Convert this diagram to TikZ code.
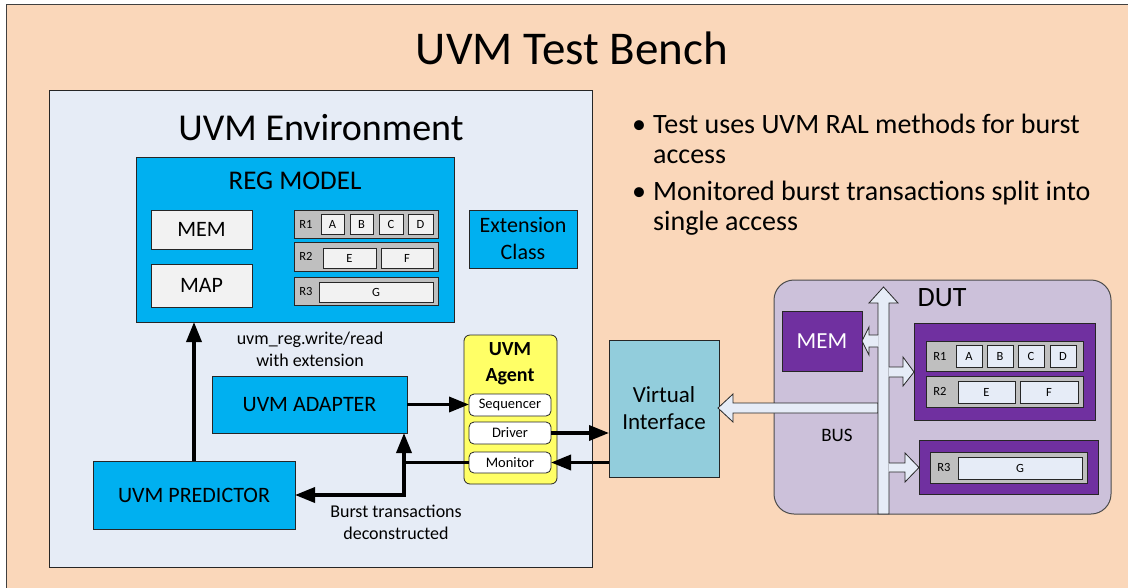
\documentclass[tikz,border=0pt]{standalone}
\usepackage{fontspec}
\setmainfont{Carlito}
\usetikzlibrary{arrows.meta,calc}
\definecolor{peach}{HTML}{FAD7BA}
\definecolor{envc}{HTML}{E6ECF6}
\definecolor{uvmblue}{HTML}{00B0F0}
\definecolor{lightw}{HTML}{F2F2F2}
\definecolor{reggray}{HTML}{BFBFBF}
\definecolor{agenty}{HTML}{FFFF66}
\definecolor{vic}{HTML}{92CDDC}
\definecolor{dutc}{HTML}{CCC1DA}
\definecolor{purp}{HTML}{7030A0}
\definecolor{busc}{HTML}{E6ECF7}
\definecolor{edge}{HTML}{262626}
\newcommand\mybox[7]{\node[#6, minimum width={(#4-#2)*1pt}, minimum height={(#5-#3)*1pt}] (#1) at ({(#2+#4)/2},{(#3+#5)/2}) {#7};}
\begin{document}
\begin{tikzpicture}[x=1pt,y=-1pt,
  box/.style={draw=edge, line width=0.8pt, inner sep=0pt, outer sep=0pt},
  conn/.style={line width=3.5pt, -{Triangle[length=20pt,width=15pt]}, line join=miter},
  plain/.style={line width=3.5pt, line join=miter},
  blk/.style={fill=busc, draw=edge, line width=0.8pt, line join=miter},
  fA/.style={font=\fontsize{22}{27}\selectfont, align=center},
  fR/.style={font=\fontsize{12.5}{15}\selectfont},
  fS/.style={font=\fontsize{14.5}{17}\selectfont},
  fL/.style={font=\fontsize{18}{22}\selectfont, align=center, inner sep=0pt},
  fB/.style={font=\fontsize{28}{34}\selectfont, inner sep=0pt},
  sub/.style={box, fill=white, rounded corners=5pt, fS},
  lett/.style={box, fill=lightw, fR},
  dlett/.style={box, fill=busc, fR}
]
\useasboundingbox (0,0) rectangle (1128,587);
\fill[white] (0,0) rectangle (1128,587);
\draw[fill=peach, draw=black!75, line width=0.8pt] (6,4) rectangle (1150,610);

\node[font=\fontsize{47}{56}\selectfont] (title) at (572,48) {UVM Test Bench};

% bullets
\node[fB, anchor=base] (bu1) at (639,133) {•};
\node[fB, anchor=base west] (l1) at (653,133) {Test uses UVM RAL methods for burst};
\node[fB, anchor=base west] (l2) at (653,163) {access};
\node[fB, anchor=base] (bu2) at (639,200) {•};
\node[fB, anchor=base west] (l3) at (653,200) {Monitored burst transactions split into};
\node[fB, anchor=base west] (l4) at (653,230) {single access};

% environment
\mybox{env}{49}{90}{592}{567}{box, fill=envc}{}
\node[font=\fontsize{38}{46}\selectfont] (envt) at (321,128) {UVM Environment};

% reg model
\mybox{reg}{136}{157}{454}{322}{box, fill=uvmblue}{}
\node[font=\fontsize{27}{32}\selectfont] (regt) at (295,181) {REG MODEL};
\mybox{rmem}{151}{210}{252}{249}{box, fill=lightw, fA}{MEM}
\mybox{rmap}{151}{264}{252}{307}{box, fill=lightw, fA}{MAP}
\mybox{rr1}{294}{210}{438}{238}{box, fill=reggray}{}
\node[fR] (rr1t) at (306,224) {R1};
\mybox{ra}{321}{214}{344}{234}{lett}{A}
\mybox{rb}{350}{214}{373}{234}{lett}{B}
\mybox{rc}{379}{214}{403}{234}{lett}{C}
\mybox{rd}{408}{214}{433}{234}{lett}{D}
\mybox{rr2}{294}{242}{438}{271}{box, fill=reggray}{}
\node[fR] (rr2t) at (306,256.5) {R2};
\mybox{re}{323}{248}{376}{268}{lett}{E}
\mybox{rf}{381}{248}{433}{268}{lett}{F}
\mybox{rr3}{294}{277}{438}{305}{box, fill=reggray}{}
\node[fR] (rr3t) at (306,291) {R3};
\mybox{rg}{319}{282}{433}{302}{lett}{G}

\mybox{ext}{469}{210}{577}{268}{box, fill=uvmblue, fA}{Extension\\Class}

\node[fL] (wlab) at (310,349) {uvm\_reg.write/read\\with extension};

\mybox{adp}{212}{376}{407}{433}{box, fill=uvmblue, fA}{UVM ADAPTER}
\mybox{pred}{93}{461}{295}{529}{box, fill=uvmblue, fA}{UVM PREDICTOR}

\node[fL] (blab) at (396,522) {Burst transactions\\deconstructed};

% agent
\mybox{agent}{464}{335}{557}{484}{box, fill=agenty, rounded corners=6pt}{}
\node[font=\fontsize{20}{26}\selectfont\bfseries, align=center] (agt) at (510,364) {UVM\\Agent};
\mybox{seq}{469}{394}{551}{416}{sub}{Sequencer}
\mybox{drv}{469}{422}{551}{444}{sub}{Driver}
\mybox{mon}{469}{452}{551}{473}{sub}{Monitor}

% virtual interface
\mybox{vi}{609}{340}{719}{477}{box, fill=vic, font=\fontsize{23}{27}\selectfont, align=center}{Virtual\\Interface}

% DUT
\mybox{dut}{774}{280}{1111}{514}{box, fill=dutc, draw=black!70, line width=1pt, rounded corners=20pt}{}
\node[font=\fontsize{28}{34}\selectfont] (dutt) at (942,298) {DUT};
\mybox{dmem}{782}{311}{862}{371}{box, fill=purp, text=white, font=\fontsize{23}{27}\selectfont}{MEM}
\mybox{p1}{914}{323}{1095}{420}{box, fill=purp}{}
\mybox{dr1}{926}{341}{1083}{371}{box, fill=reggray}{}
\node[fR] (dr1t) at (940,356) {R1};
\mybox{da}{956}{345}{982}{367}{dlett}{A}
\mybox{db}{987}{345}{1013}{367}{dlett}{B}
\mybox{dc}{1018}{345}{1044}{367}{dlett}{C}
\mybox{dd}{1050}{345}{1076}{367}{dlett}{D}
\mybox{dr2}{926}{376}{1083}{407}{box, fill=reggray}{}
\node[fR] (dr2t) at (940,391.5) {R2};
\mybox{de}{958}{381}{1015}{403}{dlett}{E}
\mybox{df}{1020}{381}{1078}{403}{dlett}{F}
\mybox{p2}{919}{440}{1098}{494}{box, fill=purp}{}
\mybox{dr3}{930}{452}{1087}{483}{box, fill=reggray}{}
\node[fR] (dr3t) at (944,467.5) {R3};
\mybox{dg}{958}{457}{1082}{479}{dlett}{G}
\node[font=\fontsize{19}{23}\selectfont] (bus) at (837,435) {BUS};

% bus block arrows
\path[blk] (878,403) -- (733,403) -- (733,394) -- (718,408) -- (733,422) -- (733,413) -- (878,413) -- cycle;
\path[blk] (878,514) -- (878,303) -- (869,303) -- (883.5,287) -- (898,303) -- (889,303) -- (889,514) -- cycle;
\fill[busc] (878.5,335) -- (869,335) -- (869,327) -- (862,341) -- (869,355) -- (869,347) -- (878.5,347) -- cycle;
\draw[edge, line width=0.8pt, line join=miter] (878,335) -- (869,335) -- (869,327) -- (862,341) -- (869,355) -- (869,347) -- (878,347);
\fill[busc] (888.5,367) -- (903,367) -- (903,357) -- (914,372) -- (903,386) -- (903,377) -- (888.5,377) -- cycle;
\draw[edge, line width=0.8pt, line join=miter] (889,367) -- (903,367) -- (903,357) -- (914,372) -- (903,386) -- (903,377) -- (889,377);
\fill[busc] (888.5,463) -- (905,463) -- (905,453) -- (919,467.5) -- (905,482) -- (905,472) -- (888.5,472) -- cycle;
\draw[edge, line width=0.8pt, line join=miter] (889,463) -- (905,463) -- (905,453) -- (919,467.5) -- (905,482) -- (905,472) -- (889,472);

% connectors
\draw[conn] (pred.north) -- (pred.north |- reg.south);
\draw[conn] (adp.east) -- (adp.east -| seq.west);
\draw[conn] (drv.east) -- (drv.east -| vi.west);
\draw[conn] (vi.west |- mon.east) -- (mon.east);
\coordinate (jn) at (404,462.5);
\coordinate (jd) at (404,495);
\draw[conn] (mon.west) -- (jn) -- (jn |- adp.south);
\draw[conn] (jn) -- (jd) -- (jd -| pred.east);
\end{tikzpicture}
\end{document}
